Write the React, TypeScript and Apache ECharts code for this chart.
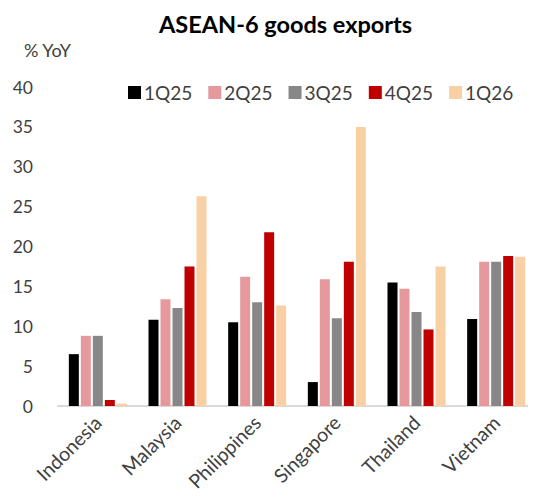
import React, { useEffect, useRef } from "react";
import * as echarts from "echarts";

const categories = ["Indonesia", "Malaysia", "Philippines", "Singapore", "Thailand", "Vietnam"];
const seriesNames = ["1Q25", "2Q25", "3Q25", "4Q25", "1Q26"];
const q1_25 = [6.5, 10.8, 10.5, 3.0, 15.5, 10.9];
const q2_25 = [8.8, 13.4, 16.2, 15.9, 14.7, 18.1];
const q3_25 = [8.8, 12.3, 13.0, 11.0, 11.8, 18.1];
const q4_25 = [0.75, 17.5, 21.8, 18.1, 9.6, 18.8];
const q1_26 = [0.3, 26.3, 12.6, 35.0, 17.5, 18.7];
const seriesData = [q1_25, q2_25, q3_25, q4_25, q1_26];
const colors = ["#000000", "#E6999D", "#878787", "#C00000", "#F9CFA4"];
const yTicks = { min: 0, max: 40, interval: 5 };

const FONT = "Lato, 'Open Sans', sans-serif";
const TXT = "#404040";

export default function App() {
  const ref = useRef<HTMLDivElement>(null);
  useEffect(() => {
    if (!ref.current) return;
    const chart = echarts.init(ref.current, undefined, { renderer: "svg" });
    chart.setOption({
      animation: false,
      backgroundColor: "#ffffff",
      title: {
        text: "ASEAN-6 goods exports",
        left: 154,
        top: 7,
        textStyle: { fontFamily: FONT, fontSize: 23.5, fontWeight: "bold", color: "#000000" },
      },
      graphic: [
        {
          type: "text",
          x: 24,
          y: 50,
          style: { text: "% YoY", font: `18px ${FONT}`, fill: TXT, verticalAlign: "middle" },
        },
      ],
      legend: {
        data: seriesNames,
        left: 123,
        top: 78,
        icon: "rect",
        itemWidth: 13,
        itemHeight: 13,
        itemGap: 16,
        textStyle: { fontFamily: FONT, fontSize: 19, color: TXT, padding: [0, 0, 0, -2] },
      },
      grid: { left: 58, top: 87, width: 481, bottom: 98, containLabel: false },
      xAxis: {
        type: "category",
        data: categories,
        axisTick: { show: false },
        axisLine: { lineStyle: { color: "#D9D9D9", width: 2 } },
        axisLabel: { rotate: 45, fontFamily: FONT, fontSize: 19.5, color: TXT, margin: 13, interval: 0 },
      },
      yAxis: {
        type: "value",
        min: yTicks.min,
        max: yTicks.max,
        interval: yTicks.interval,
        splitLine: { show: false },
        axisLine: { show: false },
        axisTick: { show: false },
        axisLabel: { fontFamily: FONT, fontSize: 17.5, color: TXT, margin: 25 },
      },
      series: seriesNames.map((name, i) => ({
        name,
        type: "bar",
        data: seriesData[i],
        barWidth: 10,
        barGap: "20%",
        itemStyle: { color: colors[i] },
      })),
    });
    return () => chart.dispose();
  }, []);
  return <div ref={ref} style={{ width: 536, height: 504, margin: -8 }} />;
}
